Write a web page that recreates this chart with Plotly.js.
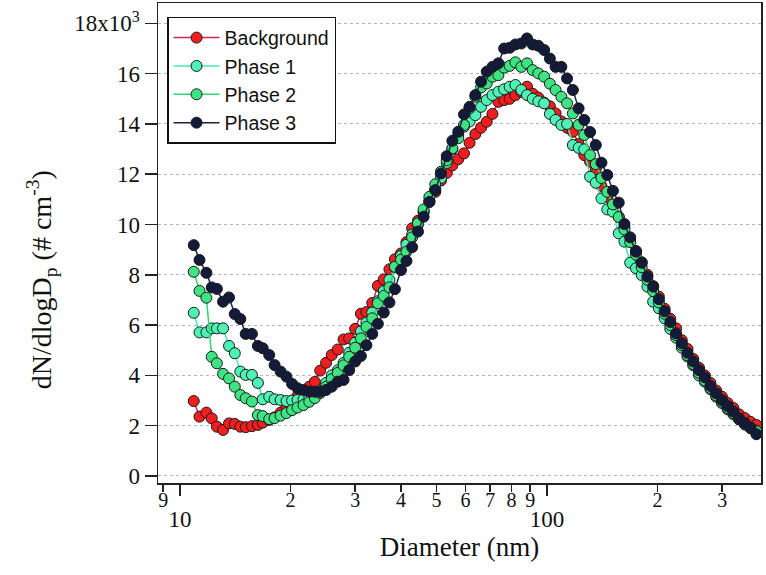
<!DOCTYPE html>
<html>
<head>
<meta charset="utf-8">
<script src="https://cdn.plot.ly/plotly-3.0.1.min.js"></script>
<style>
  html, body { margin: 0; padding: 0; background: #fff; }
  #chart { width: 766px; height: 575px; }
</style>
</head>
<body>
<div id="chart"></div>
<script>
// Particle diameter (nm), SMPS channels
const diameters = [
  10.9, 11.3, 11.8, 12.2, 12.6, 13.1, 13.6, 14.1, 14.6, 15.1,
  15.7, 16.3, 16.8, 17.5, 18.1, 18.8, 19.5, 20.2, 20.9, 21.7,
  22.5, 23.3, 24.1, 25.0, 25.9, 26.9, 27.9, 28.9, 30.0, 31.1,
  32.2, 33.4, 34.6, 35.9, 37.2, 38.5, 40.0, 41.4, 42.9, 44.5,
  46.1, 47.8, 49.6, 51.4, 53.3, 55.2, 57.3, 59.4, 61.5, 63.8,
  66.1, 68.5, 71.0, 73.7, 76.4, 79.1, 82.0, 85.1, 88.2, 91.4,
  94.7, 98.2, 101.8, 105.5, 109.4, 113.4, 117.6, 121.9, 126.3, 131.0,
  135.8, 140.7, 145.9, 151.2, 156.8, 162.5, 168.5, 174.7, 181.1, 187.7,
  194.6, 201.7, 209.1, 216.7, 224.7, 232.9, 241.4, 250.3, 259.5, 269.0,
  278.8, 289.0, 299.6, 310.6, 322.0, 333.8, 346.0, 358.7, 371.8
];

// dN/dlogDp in units of 10^3 cm^-3
const background = [
  2.98, 2.36, 2.52, 2.29, 1.96, 1.83, 2.09, 2.07, 1.96, 1.94,
  1.98, 2.03, 2.12, 2.23, 2.33, 2.52, 2.78, 2.98, 3.18, 3.38,
  3.55, 3.74, 4.19, 4.50, 4.81, 5.03, 5.43, 5.47, 5.85, 6.45,
  6.52, 6.88, 7.56, 7.82, 8.22, 8.62, 8.85, 9.30, 9.85, 10.15,
  10.50, 10.90, 11.30, 11.75, 12.05, 12.35, 12.60, 12.83, 13.25, 13.60,
  13.85, 14.09, 14.40, 14.88, 14.95, 15.00, 15.15, 15.28, 15.48, 15.20,
  15.05, 14.85, 14.70, 14.42, 14.10, 13.85, 13.69, 13.20, 12.76, 12.50,
  12.20, 11.53, 11.10, 10.78, 10.30, 9.90, 9.40, 8.95, 8.50, 8.00,
  7.55, 7.13, 6.65, 6.25, 5.87, 5.40, 5.05, 4.65, 4.30, 4.00,
  3.70, 3.40, 3.15, 2.90, 2.70, 2.45, 2.30, 2.15, 2.03
];

const phase1 = [
  6.49, 5.71, 5.71, 5.87, 5.87, 5.87, 5.17, 4.88, 4.15, 4.02,
  4.02, 3.70, 3.05, 3.15, 3.05, 3.02, 2.98, 3.00, 3.02, 3.05,
  3.10, 3.20, 3.40, 3.70, 4.00, 4.20, 4.50, 4.90, 5.30, 5.75,
  6.10, 6.50, 6.95, 7.35, 7.80, 8.30, 8.75, 9.20, 9.60, 10.00,
  10.50, 10.95, 11.40, 11.85, 12.45, 13.00, 13.56, 13.89, 14.10, 14.35,
  14.68, 14.95, 15.15, 15.28, 15.38, 15.48, 15.55, 15.35, 15.15, 15.00,
  14.90, 14.82, 14.40, 14.16, 13.96, 14.00, 13.16, 13.05, 12.99, 11.90,
  11.66, 11.04, 10.60, 10.51, 9.65, 9.32, 8.48, 8.26, 7.99, 7.53,
  6.93, 6.67, 6.27, 5.85, 5.50, 5.10, 4.75, 4.40, 4.00, 3.75,
  3.45, 3.15, 2.90, 2.65, 2.45, 2.25, 2.05, 1.90, 1.80
];

const phase2 = [
  8.12, 7.36, 7.09, 4.74, 4.48, 4.06, 3.88, 3.55, 3.22, 3.09,
  2.96, 2.42, 2.38, 2.26, 2.30, 2.40, 2.50, 2.62, 2.72, 2.82,
  2.95, 3.10, 3.30, 3.55, 3.85, 4.10, 4.40, 4.74, 5.10, 5.47,
  5.93, 6.27, 6.87, 7.16, 7.50, 8.32, 8.60, 8.92, 9.49, 10.05,
  10.60, 11.10, 11.60, 12.10, 12.55, 13.03, 13.43, 13.96, 14.62, 15.08,
  15.45, 15.61, 15.88, 15.94, 16.24, 16.31, 16.45, 16.27, 16.41, 16.14,
  16.01, 15.88, 15.60, 15.35, 15.08, 14.82, 14.42, 13.96, 13.56, 12.76,
  12.40, 11.85, 11.30, 10.80, 10.30, 9.80, 9.30, 8.80, 8.30, 7.80,
  7.35, 6.90, 6.45, 6.00, 5.60, 5.20, 4.80, 4.45, 4.10, 3.80,
  3.50, 3.20, 2.95, 2.70, 2.50, 2.25, 2.05, 1.90, 1.78
];

const phase3 = [
  9.18, 8.59, 8.08, 7.50, 7.44, 6.93, 7.10, 6.44, 6.24, 5.65,
  5.65, 5.17, 5.08, 4.81, 4.41, 4.15, 3.95, 3.66, 3.49, 3.42,
  3.35, 3.35, 3.35, 3.42, 3.55, 3.75, 3.82, 4.21, 4.55, 4.77,
  5.20, 5.65, 6.05, 6.50, 6.90, 7.43, 8.19, 8.55, 9.10, 9.72,
  10.31, 10.90, 11.37, 12.03, 12.72, 13.33, 13.69, 14.38, 14.68, 15.15,
  15.68, 16.08, 16.27, 16.41, 17.00, 17.03, 17.16, 17.20, 17.40, 17.16,
  17.11, 16.94, 16.60, 16.27, 16.27, 15.81, 15.35, 14.62, 14.16, 13.68,
  13.16, 12.46, 11.97, 11.34, 10.87, 10.02, 9.49, 8.92, 8.48, 7.93,
  7.53, 7.03, 6.55, 6.12, 5.67, 5.28, 4.90, 4.55, 4.21, 3.92,
  3.58, 3.29, 3.02, 2.78, 2.56, 2.29, 2.10, 1.92, 1.66
];

const seriesNames = ["Background", "Phase 1", "Phase 2", "Phase 3"];

// tick labels
const yTickVals = [0, 2, 4, 6, 8, 10, 12, 14, 16, 18];
const yTickText = ["0", "2", "4", "6", "8", "10", "12", "14", "16", "18x10<sup>3</sup>"];
const xMinorVals = [9, 20, 30, 40, 50, 60, 70, 80, 90, 200, 300];
const xMinorText = ["9", "2", "3", "4", "5", "6", "7", "8", "9", "2", "3"];
const xMajorVals = [10, 100];
const xMajorText = ["10", "100"];

const styles = [
  { marker: "#f21d1d", line: "#c9285a" },
  { marker: "#4df2b4", line: "#3fefb0" },
  { marker: "#3fe482", line: "#2fd873" },
  { marker: "#131a3a", line: "#1b2347" }
];
const seriesData = [background, phase1, phase2, phase3];

const traces = seriesData.map((vals, k) => ({
  type: "scatter",
  mode: "lines+markers",
  name: seriesNames[k],
  x: diameters,
  y: vals,
  line: { color: styles[k].line, width: 1.5 },
  marker: {
    symbol: "circle",
    size: 11,
    color: styles[k].marker,
    line: { color: "#1a1a1a", width: 1 }
  },
  xaxis: "x",
  yaxis: "y"
}));

// empty carrier so the decade-tick axis is drawn
traces.push({
  type: "scatter", mode: "markers", x: [], y: [],
  xaxis: "x2", yaxis: "y", showlegend: false, hoverinfo: "skip"
});

const serif = "Liberation Serif, Times New Roman, serif";
const xRange = [0.940, 2.583];

const layout = {
  width: 766,
  height: 575,
  margin: { l: 158, r: 5, t: 3, b: 92, pad: 0 },
  paper_bgcolor: "#ffffff",
  plot_bgcolor: "#ffffff",
  showlegend: true,
  legend: {
    x: 0.015, y: 0.971, xanchor: "left", yanchor: "top",
    bgcolor: "#ffffff",
    bordercolor: "#111111",
    borderwidth: 1.5,
    font: { family: "Liberation Sans, Arial, sans-serif", size: 19.5, color: "#111111" },
    tracegroupgap: 0,
    itemwidth: 46
  },
  xaxis: {
    type: "log",
    range: xRange,
    showgrid: false,
    zeroline: false,
    showline: true,
    linecolor: "#222222",
    linewidth: 1.5,
    mirror: true,
    ticks: "outside",
    ticklen: 7,
    tickwidth: 1.5,
    tickcolor: "#222222",
    tickmode: "array",
    tickvals: xMinorVals,
    ticktext: xMinorText,
    tickfont: { family: serif, size: 20, color: "#111111" },
    ticklabelstandoff: -9,
    title: {
      text: "Diameter (nm)",
      font: { family: serif, size: 27, color: "#111111" },
      standoff: 27
    },
    automargin: false
  },
  xaxis2: {
    type: "log",
    range: xRange,
    overlaying: "x",
    anchor: "y",
    side: "bottom",
    showgrid: false,
    zeroline: false,
    showline: false,
    ticks: "outside",
    ticklen: 12,
    tickwidth: 1.5,
    tickcolor: "#222222",
    tickmode: "array",
    tickvals: xMajorVals,
    ticktext: xMajorText,
    tickfont: { family: serif, size: 23, color: "#111111" },
    ticklabelstandoff: 3,
    automargin: false
  },
  yaxis: {
    range: [-0.28, 18.81],
    showgrid: true,
    gridcolor: "#a9b9c9",
    griddash: "dot",
    gridwidth: 1,
    zeroline: false,
    showline: true,
    linecolor: "#222222",
    linewidth: 1.5,
    mirror: true,
    ticks: "outside",
    ticklen: 12,
    tickwidth: 1.5,
    tickcolor: "#222222",
    tickmode: "array",
    tickvals: yTickVals,
    ticktext: yTickText,
    tickfont: { family: serif, size: 23, color: "#111111" },
    automargin: false
  },
  annotations: [
    {
      text: "dN/dlogD<sub>p</sub> (# cm<sup>-3</sup>)",
      xref: "paper", yref: "paper",
      x: -0.192, y: 0.423,
      xanchor: "center", yanchor: "middle",
      textangle: -90,
      showarrow: false,
      font: { family: serif, size: 28, color: "#111111" }
    }
  ]
};

Plotly.newPlot("chart", traces, layout, { displayModeBar: false, staticPlot: true });
</script>
</body>
</html>
